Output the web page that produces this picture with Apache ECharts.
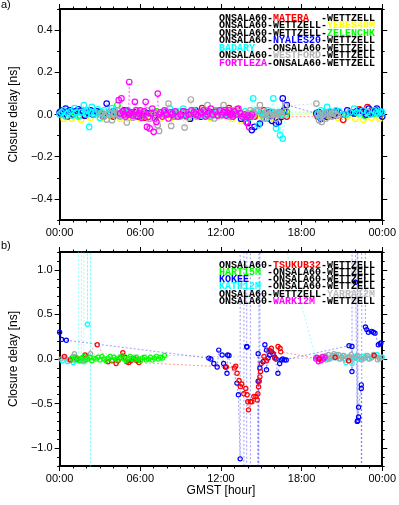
<!DOCTYPE html>
<html><head><meta charset="utf-8">
<script src="https://cdn.jsdelivr.net/npm/echarts@6/dist/echarts.min.js"></script>
<style>html,body{margin:0;padding:0;background:#fff}#c{width:399px;height:505px}</style>
</head><body><div id="c"></div><script>
// ---------- Panel a) data : [GMST hour, closure delay ns] ----------
const materaA = [[0.1,0.005],[0.6,-0.01],[1.2,0.01],[1.9,-0.005],[2.6,0.015],[3.3,0.0],[4.0,-0.01],[4.8,0.02],[5.5,0.005],[6.3,-0.015],[7.0,0.01],[7.8,0.0],[8.5,-0.01],[9.2,0.015],[10.0,0.0],[10.6,0.03],[11.3,0.01],[12.0,0.02],[12.6,0.03],[13.2,0.025],[13.8,0.0],[14.5,-0.01],[15.2,0.02],[15.9,-0.005],[16.5,0.01],[16.9,-0.01],[19.2,-0.01],[19.8,0.01],[20.4,-0.005],[21.1,-0.025],[21.7,0.01],[22.3,0.025],[22.9,0.035],[23.5,0.02],[23.9,0.005]];
const yebesA = [[0.3,-0.02],[0.9,-0.02],[1.6,-0.025],[2.3,-0.015],[3.0,-0.02],[3.8,-0.01],[4.5,-0.02],[5.3,-0.015],[6.0,-0.02],[6.8,-0.01],[7.5,-0.02],[8.3,-0.015],[9.0,-0.005],[9.8,-0.02],[10.5,-0.01],[11.2,-0.015],[12.0,-0.01],[12.8,-0.02],[13.5,-0.03],[14.2,-0.015],[15.0,-0.01],[15.7,-0.02],[16.4,-0.015],[16.9,0.0],[19.3,0.0],[20.0,-0.01],[20.7,-0.015],[21.4,-0.01],[22.0,-0.02],[22.6,-0.025],[23.2,-0.015],[23.8,-0.02]];
const zelenA = [[0.2,0.0],[0.8,0.01],[1.5,-0.005],[2.2,0.005],[2.9,0.015],[3.6,0.0],[4.3,0.045],[5.0,0.01],[5.7,-0.005],[6.5,0.005],[7.2,0.015],[8.0,0.0],[8.7,0.01],[9.4,-0.01],[10.2,0.01],[10.9,0.0],[11.6,0.02],[12.3,0.005],[13.0,0.01],[13.7,-0.005],[14.4,0.01],[15.1,0.0],[15.8,0.01],[16.5,0.0],[16.9,0.012],[19.2,0.01],[19.9,0.0],[20.6,0.01],[21.3,0.0],[22.0,0.01],[22.7,-0.005],[23.4,0.005],[23.9,0.0]];
const nyalesA = [[0.0,0.01],[0.15,0.02],[0.3,0.005],[0.45,0.028],[0.6,0.015],[0.8,0.02],[1.0,0.0],[1.2,0.015],[1.4,0.025],[1.6,0.02],[1.85,-0.005],[2.1,0.01],[2.3,0.02],[2.5,0.0],[2.75,0.015],[3.0,0.01],[3.25,-0.01],[3.5,0.052],[3.75,0.01],[4.0,0.015],[4.3,0.0],[4.6,0.005],[4.9,0.02],[5.2,0.0],[5.6,0.01],[5.9,-0.01],[6.5,0.005],[7.1,-0.005],[7.8,0.01],[8.4,0.0],[9.0,-0.005],[9.4,0.01],[9.7,-0.02],[10.1,0.02],[10.5,-0.01],[10.8,0.012],[11.4,0.005],[12.2,0.01],[12.9,0.0],[13.5,-0.02],[14.0,-0.04],[14.3,-0.074],[14.5,-0.059],[14.9,-0.043],[15.2,0.0],[15.4,-0.02],[15.6,0.01],[15.8,-0.03],[16.1,-0.043],[16.3,-0.035],[16.5,-0.011],[16.6,0.076],[16.7,0.02],[16.9,0.045],[19.1,0.005],[19.3,0.01],[19.45,-0.02],[19.7,0.0],[19.9,-0.011],[20.1,0.01],[20.4,-0.003],[20.6,0.015],[20.8,0.01],[21.1,0.0],[21.4,0.02],[21.6,0.01],[21.9,0.005],[22.1,0.015],[22.4,0.02],[22.6,0.012],[22.8,0.0],[23.0,0.028],[23.15,0.005],[23.3,0.012],[23.45,0.02],[23.6,0.028],[23.8,0.005],[23.9,0.015],[24.0,-0.01]];
const badaryA = [[0.0,0.0],[0.15,0.01],[0.3,0.02],[0.45,-0.01],[0.6,0.005],[0.8,0.015],[0.95,-0.005],[1.1,0.03],[1.25,0.01],[1.4,-0.01],[1.6,0.01],[1.8,0.044],[1.9,0.015],[2.0,0.0],[2.1,0.02],[2.2,-0.059],[2.3,0.01],[2.4,0.036],[2.55,0.0],[2.7,0.01],[2.85,0.025],[3.0,-0.015],[3.15,0.005],[3.3,0.02],[3.5,0.0],[3.7,0.005],[3.9,0.03],[4.1,0.02],[4.3,0.0],[4.6,-0.005],[4.8,0.01],[5.06,0.02],[8.2,0.028],[8.4,0.01],[8.6,0.0],[8.9,0.015],[9.2,0.028],[9.45,-0.005],[9.7,0.01],[10.0,0.02],[10.3,0.005],[10.6,-0.005],[10.9,0.015],[11.1,0.0],[11.3,-0.01],[11.5,0.005],[11.7,0.012],[12.0,0.02],[12.3,0.0],[12.6,-0.01],[12.9,0.02],[13.2,0.0],[13.5,0.005],[13.8,0.015],[14.0,-0.02],[14.2,0.0],[14.4,0.076],[14.6,0.02],[14.8,-0.051],[15.0,0.01],[15.2,0.0],[15.35,-0.02],[15.5,0.02],[15.7,0.0],[15.9,0.076],[16.0,0.01],[16.1,-0.066],[16.2,0.0],[16.3,0.012],[16.4,-0.098],[16.5,0.005],[16.6,-0.114],[16.8,0.0],[19.2,0.005],[19.35,-0.01],[19.45,0.02],[19.6,0.0],[19.75,0.01],[19.9,0.036],[20.1,0.015],[20.3,0.005],[20.55,0.02],[20.8,0.015],[21.05,0.0],[21.3,0.0],[21.6,0.01],[21.9,0.028],[22.1,0.01],[22.3,0.005],[22.6,0.02],[22.9,0.012],[23.1,0.0],[23.4,0.02],[23.55,0.01],[23.7,0.005],[23.85,0.015],[24.0,0.01]];
const westfordA = [[3.0,0.0],[3.15,0.01],[3.3,-0.01],[3.5,-0.024],[3.7,0.01],[3.9,-0.027],[4.0,0.0],[4.1,0.005],[4.3,0.02],[4.4,-0.005],[4.5,-0.01],[4.7,0.0],[4.85,0.015],[5.0,-0.038],[5.15,0.0],[5.3,0.01],[5.45,-0.015],[5.6,-0.005],[5.75,0.005],[5.9,0.015],[6.1,-0.01],[6.3,0.0],[6.5,0.02],[6.7,-0.02],[6.85,0.005],[7.0,0.01],[7.15,-0.01],[7.3,-0.051],[7.4,-0.078],[7.55,0.005],[7.7,0.0],[7.9,0.015],[8.1,0.052],[8.2,0.0],[8.3,-0.054],[8.45,-0.01],[8.6,0.01],[8.8,0.0],[9.0,-0.01],[9.15,0.01],[9.3,-0.062],[9.5,0.005],[9.6,-0.015],[9.76,0.071],[9.9,0.0],[10.0,0.015],[10.2,-0.01],[10.4,0.0],[10.55,0.01],[10.7,0.02],[10.85,-0.005],[11.0,0.044],[11.2,-0.01],[11.35,0.005],[11.5,-0.019],[11.7,0.0],[11.9,0.01],[12.05,-0.005],[12.2,0.044],[12.4,0.0],[12.6,0.02],[12.8,-0.01],[13.0,0.0],[13.2,0.015],[13.4,0.01],[13.6,-0.005],[13.8,-0.01],[14.0,0.005],[14.2,0.02],[14.35,-0.01],[14.5,0.005],[14.7,0.015],[14.9,0.044],[15.05,0.0],[15.2,-0.019],[15.35,0.01],[15.5,0.0],[15.65,-0.01],[15.8,0.012],[15.95,0.0],[16.1,-0.02],[16.25,0.005],[16.4,0.01],[16.55,-0.005],[16.8,0.04],[19.1,0.052],[19.2,0.0],[19.3,-0.027],[19.4,0.005],[19.5,-0.035],[19.65,0.0],[19.8,-0.019],[19.95,0.01],[20.1,0.0],[20.25,-0.01],[20.4,0.01],[20.55,0.0],[20.7,-0.005]];
const fortlezaA = [[4.4,0.068],[4.5,0.005],[4.6,0.076],[4.7,0.015],[4.8,0.0],[4.9,-0.01],[5.0,0.02],[5.1,0.0],[5.18,0.154],[5.25,0.005],[5.35,0.01],[5.45,-0.005],[5.6,0.06],[5.7,0.02],[5.8,-0.01],[5.9,0.005],[6.0,0.02],[6.1,-0.015],[6.2,0.0],[6.3,0.015],[6.4,0.06],[6.5,-0.059],[6.6,-0.011],[6.7,-0.066],[6.8,0.005],[6.9,0.028],[7.0,-0.082],[7.1,-0.019],[7.2,-0.035],[7.3,0.099],[7.4,0.0],[7.5,0.01],[7.65,-0.01],[7.8,0.02],[7.95,0.0],[8.1,-0.019],[8.25,0.01],[8.4,0.005],[8.6,0.015],[8.8,-0.01],[9.0,0.0],[9.2,0.015],[9.4,-0.005],[9.6,0.0],[9.8,0.02],[10.0,0.01],[10.15,0.0],[10.3,-0.005],[10.5,0.01],[10.7,0.02],[10.85,-0.01],[11.0,0.0],[11.1,0.015],[11.25,0.028],[11.4,0.0],[11.6,0.012],[11.75,-0.005],[11.9,0.02],[12.05,0.0],[12.2,0.01],[12.3,0.02],[12.4,-0.005],[12.5,0.01],[12.6,0.02],[12.7,0.0],[12.8,0.005],[12.9,-0.01],[13.0,0.015],[13.15,0.0],[13.3,0.028],[13.45,0.005],[13.6,-0.01],[13.75,0.0],[13.9,-0.035],[14.0,-0.005],[14.1,-0.059],[14.2,-0.01],[14.3,0.0]];

// ---------- Panel b) data ----------
const tsukubB = [[0.35,0.03],[0.8,-0.01],[1.3,0.0],[1.9,0.045],[2.8,0.16],[3.6,-0.03],[3.9,-0.02],[4.2,-0.05],[4.35,-0.02],[4.5,0.01],[4.7,0.07],[4.85,0.02],[5.0,-0.03],[5.15,-0.04],[5.3,-0.02],[5.45,0.01],[5.6,0.0],[5.75,-0.02],[5.9,-0.04],[12.4,-0.09],[13.0,-0.10],[13.1,-0.08],[13.2,-0.16],[13.35,-0.24],[13.45,-0.31],[13.55,-0.28],[13.7,-0.39],[13.85,-0.33],[13.95,-0.40],[14.0,-0.48],[14.05,-0.57],[14.2,-0.48],[14.3,-0.48],[14.45,-0.42],[14.6,-0.42],[14.7,-0.46],[14.75,-0.39],[14.8,-0.31],[14.85,-0.25],[14.9,-0.20],[14.95,-0.14],[15.0,-0.05],[15.2,0.03],[15.4,-0.02],[15.6,0.10],[15.75,0.12],[15.9,0.06],[16.0,0.01],[16.25,0.14],[16.4,0.12],[16.45,0.08],[19.3,0.0],[20.5,0.02],[21.5,-0.02],[23.4,0.04]];
const hartB = [[0.9,0.01],[1.05,-0.01],[1.2,0.02],[1.35,0.0],[1.5,-0.02],[1.65,0.01],[1.8,0.03],[1.95,-0.01],[2.1,0.0],[2.25,0.02],[2.4,-0.02],[2.55,0.01],[2.7,0.0],[2.85,0.02],[3.0,-0.01],[3.15,0.03],[3.3,0.0],[3.45,-0.02],[3.6,0.01],[3.75,0.03],[3.9,-0.01],[4.05,0.02],[4.2,0.0],[4.35,-0.01],[4.5,0.02],[4.65,0.04],[4.8,0.0],[4.95,-0.02],[5.1,0.01],[5.25,0.03],[5.4,0.0],[5.55,-0.01],[5.7,0.02],[5.85,0.0],[6.0,-0.02],[6.15,0.01],[6.3,0.02],[6.45,-0.01],[6.6,0.0],[6.75,0.02],[6.9,-0.01],[7.05,0.01],[7.2,0.03],[7.35,0.0],[7.5,0.02],[7.65,0.01],[7.8,0.04]];
const kokeeB = [[0.0,0.30],[0.15,0.22],[0.5,0.21],[11.1,0.01],[11.25,0.0],[11.47,-0.05],[11.72,-0.09],[11.84,0.10],[12.09,0.045],[12.2,-0.05],[12.33,-0.09],[12.45,-0.16],[12.5,0.045],[12.6,0.04],[13.19,-0.27],[13.3,-0.40],[13.43,-1.12],[13.45,30],[13.7,30],[13.72,-30],[13.9,-30],[13.92,0.14],[13.94,0.135],[14.1,30],[14.28,-30],[14.3,-30],[14.77,0.06],[14.77,-0.25],[14.8,-30],[14.85,30],[14.9,-0.10],[15.14,-0.03],[15.27,0.16],[15.39,0.10],[15.39,-0.12],[15.51,0.01],[15.63,0.045],[15.76,0.08],[15.87,0.06],[16.0,0.02],[16.1,0.0],[16.24,-0.16],[16.37,-0.05],[16.49,-0.01],[16.6,0.0],[16.73,-0.01],[16.86,-0.01],[21.53,0.15],[21.75,0.14],[21.75,-0.14],[21.85,30],[22.02,0.86],[22.14,-0.70],[22.15,30],[22.19,-0.69],[22.24,-0.65],[22.24,-0.54],[22.44,-0.29],[22.44,-0.33],[22.45,-30],[22.5,30],[22.75,0.36],[22.85,0.33],[22.97,0.30],[23.21,0.31],[23.34,0.30],[23.46,0.29],[23.71,0.16],[23.85,0.17],[23.9,0.18]];
const kathB = [[0.2,-0.02],[0.4,0.02],[0.6,-0.03],[0.8,0.0],[1.0,-0.04],[1.2,0.02],[1.4,-0.02],[1.58,30],[1.62,-0.02],[1.8,-0.03],[1.95,30],[2.07,0.39],[2.26,30],[2.3,-30],[2.33,30],[16.0,1.7],[19.05,0.02],[19.25,0.0],[19.4,0.0],[19.6,0.03],[19.8,0.04],[20.0,0.0],[20.2,0.01],[20.4,0.03],[20.6,0.05],[20.8,0.0],[21.0,0.02],[21.15,0.04],[21.3,-0.04],[21.5,0.01],[21.75,-0.05],[21.9,0.02],[22.0,0.03],[22.2,0.0],[22.4,0.01],[22.6,0.03],[22.8,0.04],[23.0,0.0],[23.2,0.02],[23.4,0.04],[23.6,0.05],[23.8,0.01],[24.0,0.02]];
const yarraB = [[0.1,0.0],[0.4,0.02],[0.7,-0.01],[1.0,0.03],[1.1,0.06],[1.3,0.0],[1.6,0.01],[1.8,-0.02],[2.0,0.02],[2.3,0.06],[19.4,0.0],[19.55,0.02],[19.7,0.03],[19.85,-0.01],[20.0,0.05],[20.1,0.0],[20.2,0.02],[20.3,0.04],[20.4,0.06],[20.5,0.01],[20.6,0.03],[20.75,0.05],[20.9,0.0],[21.0,0.02],[21.1,0.04],[21.25,-0.01],[21.4,0.02],[21.55,0.03],[21.7,0.05],[21.85,0.0],[22.0,0.01],[22.15,0.04],[22.3,0.03],[22.45,-0.01],[22.6,0.0],[22.75,0.02],[22.9,0.04],[23.05,0.0],[23.2,0.01],[23.35,0.05],[23.5,0.03],[23.65,-0.01],[23.8,0.0],[23.95,0.02]];
const warkB = [[19.05,0.0],[19.15,0.02],[19.25,-0.03],[19.35,0.01],[19.45,-0.02],[19.55,0.03],[19.65,0.0],[19.75,0.02]];

// ---------- Legends & ticks ----------
const legendA = ['ONSALA60-[MATERA]  -WETTZELL','ONSALA60-WETTZELL-[YEBES40M]','ONSALA60-WETTZELL-[ZELENCHK]','ONSALA60-[NYALES20]-WETTZELL','[BADARY]  -ONSALA60-WETTZELL','ONSALA60-[WESTFORD]-WETTZELL','[FORTLEZA]-ONSALA60-WETTZELL'];
const legendB = ['ONSALA60-[TSUKUB32]-WETTZELL','[HART15M] -ONSALA60-WETTZELL','[KOKEE]   -ONSALA60-WETTZELL','[KATH12M] -ONSALA60-WETTZELL','ONSALA60-WETTZELL-[YARRA12M]','ONSALA60-[WARK12M] -WETTZELL'];
const yLabelsA = [-0.4,-0.2,0,0.2,0.4];
const yLabelsB = [-1,-0.5,0,0.5,1];
const xLabelHours = [0,6,12,18,24];

const colA = ['#ff0000','#ffff00','#00ff00','#0000ff','#00ffff','#a8a8a8','#ff00ff'];
const legColA = ['#ff0000','#ffff00','#00ff00','#0000ff','#00ffff','#b4b4b4','#ff00ff'];
const colB = ['#ff0000','#00ff00','#0000ff','#00ffff','#a8a8a8','#ff00ff'];
const legColB = ['#ff0000','#00ff00','#0000ff','#00ffff','#bdbdbd','#ff00ff'];

const dataA = [materaA,yebesA,zelenA,nyalesA,badaryA,westfordA,fortlezaA];
const orderA = [1,2,0,3,4,5,6];
const dataB = [tsukubB,hartB,kokeeB,kathB,yarraB,warkB];
const orderB = [3,4,5,2,0,1];

const FONT = '"Liberation Sans", Arial, Helvetica, sans-serif';
const fmtY = v => (Math.abs(v) < 1e-9 ? '0.0' : v.toFixed(1).replace('-', '\u2212'));
const fmtX = v => { const h = Math.round(v) % 24; return (h < 10 ? '0' : '') + h + ':00'; };

function xAx(g, pos, labels, name) {
  return {
    type: 'value', gridIndex: g, position: pos, min: 0, max: 24, interval: 6,
    axisLine: { show: true, onZero: false, lineStyle: { color: '#000', width: 2 } },
    axisTick: { show: true, inside: false, length: 5, lineStyle: { color: '#000', width: 1 } },
    minorTick: { show: true, splitNumber: 6, length: 2.5, lineStyle: { color: '#000', width: 1 } },
    axisLabel: { show: labels, margin: 7, fontSize: 11, color: '#000', fontFamily: FONT,
      customValues: xLabelHours, formatter: fmtX },
    splitLine: { show: false }, minorSplitLine: { show: false },
    name: name || '', nameLocation: 'middle', nameGap: 19,
    nameTextStyle: { fontSize: 12, color: '#000', fontFamily: FONT }
  };
}
function yAx(g, pos, mn, mx, majors, labels, name, long) {
  return {
    type: 'value', gridIndex: g, position: pos, min: mn, max: mx, interval: 0.1,
    axisLine: { show: true, onZero: false, lineStyle: { color: '#000', width: 2 } },
    axisTick: long ? { show: true, inside: false, length: 5, customValues: majors, lineStyle: { color: '#000', width: 1 } }
                   : { show: true, inside: false, length: 2.5, lineStyle: { color: '#000', width: 1 } },
    axisLabel: { show: labels, margin: 7, fontSize: 11, color: '#000', fontFamily: FONT,
      customValues: majors, formatter: fmtY },
    splitLine: { show: false },
    name: name || '', nameLocation: 'middle', nameGap: 37,
    nameTextStyle: { fontSize: 12, color: '#000', fontFamily: FONT }
  };
}

const xAxes = [
  xAx(0, 'bottom', true), xAx(0, 'top', false),
  xAx(1, 'bottom', true, 'GMST [hour]'), xAx(1, 'top', false)
];
const yAxes = [
  yAx(0, 'left', -0.5, 0.5, yLabelsA, true, 'Closure delay [ns]', true),
  yAx(0, 'left', -0.5, 0.5, yLabelsA, false, '', false),
  yAx(0, 'right', -0.5, 0.5, yLabelsA, false, '', true),
  yAx(0, 'right', -0.5, 0.5, yLabelsA, false, '', false),
  yAx(1, 'left', -1.2, 1.2, yLabelsB, true, 'Closure delay [ns]', true),
  yAx(1, 'left', -1.2, 1.2, yLabelsB, false, '', false),
  yAx(1, 'right', -1.2, 1.2, yLabelsB, false, '', true),
  yAx(1, 'right', -1.2, 1.2, yLabelsB, false, '', false)
];

function mkSeries(data, col, xi, yi, size) {
  return {
    type: 'line', xAxisIndex: xi, yAxisIndex: yi, data: data, clip: true,
    symbol: 'circle', symbolSize: size, showAllSymbol: true, silent: true,
    itemStyle: { color: 'rgba(255,255,255,0)', borderColor: col, borderWidth: 1.2 },
    lineStyle: { color: col, width: 0.8, type: [2, 2], opacity: 0.5 },
    emphasis: { disabled: true }, animation: false
  };
}
const series = [];
orderA.forEach(i => series.push(mkSeries(dataA[i], colA[i], 0, 0, 5.5)));
orderB.forEach(i => series.push(mkSeries(dataB[i], colB[i], 2, 4, 4.2)));

function legendGraphics(rows, cols, x, y0, dy) {
  return rows.map((r, k) => {
    const parts = r.split(/[\[\]]/);
    let txt = '';
    parts.forEach((p, j) => { if (p.length) txt += '{' + (j % 2 ? 'c' : 'k') + '|' + p + '}'; });
    const base = { fontFamily: '"Liberation Mono", "DejaVu Sans Mono", monospace', fontWeight: 'bold', fontSize: 10 };
    return {
      type: 'text', x: x, y: y0 + k * dy, z: 100, silent: true,
      style: {
        text: txt, align: 'right', verticalAlign: 'middle',
        fontFamily: base.fontFamily, fontWeight: 'bold', fontSize: 10,
        rich: { k: Object.assign({ fill: '#000' }, base), c: Object.assign({ fill: cols[k] }, base) }
      }
    };
  });
}

const graphics = [
  { type: 'text', x: 1, y: 5, style: { text: 'a)', fontSize: 11, fontFamily: FONT, fill: '#000', verticalAlign: 'middle' } },
  { type: 'text', x: 1, y: 246, style: { text: 'b)', fontSize: 11, fontFamily: FONT, fill: '#000', verticalAlign: 'middle' } }
].concat(legendGraphics(legendA, legColA, 375, 18, 7.5))
 .concat(legendGraphics(legendB, legColB, 375, 265, 7.25));

const chart = echarts.init(document.getElementById('c'), null, { renderer: 'canvas' });
chart.setOption({
  animation: false,
  backgroundColor: '#fff',
  grid: [
    { left: 57, top: 9, width: 327, height: 211 },
    { left: 57, top: 252, width: 327, height: 214 }
  ],
  xAxis: xAxes,
  yAxis: yAxes,
  series: series,
  graphic: graphics
});
</script></body></html>
